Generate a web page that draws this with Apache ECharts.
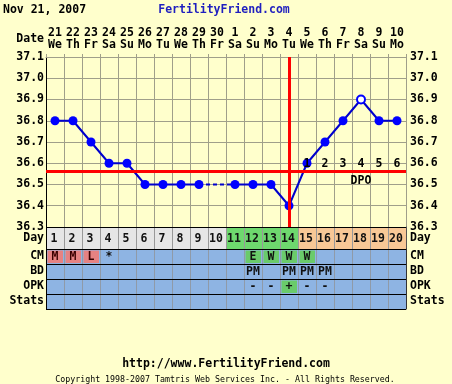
<!DOCTYPE html>
<html><head><meta charset="utf-8">
<script src="https://cdn.jsdelivr.net/npm/echarts@6/dist/echarts.min.js"></script>
<style>html,body{margin:0;padding:0;background:#ffffcc}#c{width:452px;height:384px}</style>
</head><body><div id="c"></div>
<script>
// ---- data ----
const dates    = ['21','22','23','24','25','26','27','28','29','30','1','2','3','4','5','6','7','8','9','10'];
const weekdays = ['We','Th','Fr','Sa','Su','Mo','Tu','We','Th','Fr','Sa','Su','Mo','Tu','We','Th','Fr','Sa','Su','Mo'];
const cycleDays = ['1','2','3','4','5','6','7','8','9','10','11','12','13','14','15','16','17','18','19','20'];
const temps = [36.8,36.8,36.7,36.6,36.6,36.5,36.5,36.5,36.5,null,36.5,36.5,36.5,36.4,36.6,36.7,36.8,36.9,36.8,36.8];
const discardedDay = '18';
const gapFrom = '9', gapTo = '11';
const coverline = 36.56;
const ovulationDay = '14';
const yTicks = { min: 36.3, max: 37.1, step: 0.1 };
const phase = [0,0,0,0,0,0,0,0,0,0,1,1,1,1,2,2,2,2,2,2]; // 0 pre, 1 fertile, 2 luteal
const rows = ['CM','BD','OPK','Stats'];
const cm   = ['M','M','L','*','','','','','','','','E','W','W','W','','','','',''];
const bd   = ['','','','','','','','','','','','PM','','PM','PM','PM','','','',''];
const opk  = ['','','','','','','','','','','','-','-','+','-','-','','','',''];
const stats= ['','','','','','','','','','','','','','','','','','','',''];
const dpoDays = ['15','16','17','18','19','20','18'];
const dpoLevels = [36.6,36.6,36.6,36.6,36.6,36.6,36.52];
const dpoText = ['1','2','3','4','5','6','DPO'];

// ---- styles ----
const FONT = '"DejaVu Sans Mono", monospace';
const FS = 11.5;
const GRIDC = '#a09f8a';
const phaseColors = ['#e6e6e6', '#6ed86e', '#f8c896'];
const blueCell = '#8eb4e3';
const tableData = [cm, bd, opk, stats];

function specialFill(r, t) {
  if (r === 0 && (t === 'M' || t === 'L')) return '#e68282';
  if (r === 0 && (t === 'E' || t === 'W')) return '#6acb6a';
  if (r === 2 && t === '+') return '#6acb6a';
  return null;
}

const tempData = temps.map((v, i) => {
  if (cycleDays[i] === discardedDay) {
    return { value: v, symbol: 'emptyCircle', symbolSize: 8,
      itemStyle: { color: '#0000ff', borderColor: '#0000ff', borderWidth: 1.2 } };
  }
  return v;
});
const gapData = temps.map((v, i) => (cycleDays[i] === gapFrom || cycleDays[i] === gapTo) ? v : null);

const tableCells = [];
rows.forEach((r, ri) => cycleDays.forEach((d, di) => tableCells.push([di, ri])));

const chart = echarts.init(document.getElementById('c'));
const lbl = { fontFamily: FONT, fontWeight: 'bold', fontSize: FS, color: '#000' };

chart.setOption({
  backgroundColor: '#ffffcc',
  animation: false,
  grid: [
    { left: 46, top: 57, width: 360, height: 170, show: false },
    { left: 46, top: 227, width: 360, height: 22, show: false },
    { left: 46, top: 249, width: 360, height: 60, show: false }
  ],
  xAxis: [
    { gridIndex: 0, type: 'category', data: cycleDays, position: 'top', boundaryGap: true,
      axisLine: { show: true, lineStyle: { color: GRIDC } },
      axisTick: { show: true, interval: 0, length: 3, lineStyle: { color: GRIDC } },
      axisLabel: Object.assign({ interval: 0, margin: 6, lineHeight: 12,
        formatter: (v, i) => dates[i] + '\n' + weekdays[i] }, lbl),
      splitLine: { show: true, interval: 0, lineStyle: { color: GRIDC, width: 1 } } },
    { gridIndex: 1, type: 'category', data: cycleDays, boundaryGap: true, z: 5,
      axisLine: { show: false }, axisTick: { show: false }, axisLabel: { show: false },
      splitLine: { show: true, interval: 0, lineStyle: { color: '#999999' } } },
    { gridIndex: 2, type: 'category', data: cycleDays, boundaryGap: true, z: 5,
      axisLine: { show: false }, axisTick: { show: false }, axisLabel: { show: false },
      splitLine: { show: true, interval: 0, lineStyle: { color: '#8f9aa8' } } }
  ],
  yAxis: [
    { gridIndex: 0, type: 'value', min: yTicks.min, max: yTicks.max, interval: yTicks.step, position: 'left',
      axisLine: { show: true, lineStyle: { color: '#000' } }, axisTick: { show: false },
      axisLabel: Object.assign({ margin: 2, formatter: v => v.toFixed(1) }, lbl),
      splitLine: { show: true, lineStyle: { color: GRIDC } } },
    { gridIndex: 0, type: 'value', min: yTicks.min, max: yTicks.max, interval: yTicks.step, position: 'right',
      axisLine: { show: false }, axisTick: { show: false },
      axisLabel: Object.assign({ margin: 4, formatter: v => v.toFixed(1) }, lbl),
      splitLine: { show: false } },
    { gridIndex: 1, type: 'category', data: ['Day'], position: 'left', z: 6,
      axisLine: { show: true, lineStyle: { color: '#000' } }, axisTick: { show: false },
      axisLabel: Object.assign({ margin: 2, interval: 0 }, lbl),
      splitLine: { show: true, interval: 0, lineStyle: { color: '#000' } } },
    { gridIndex: 1, type: 'category', data: ['Day'], position: 'right', z: 6,
      axisLine: { show: true, lineStyle: { color: '#555' } }, axisTick: { show: false },
      axisLabel: Object.assign({ margin: 4, interval: 0 }, lbl), splitLine: { show: false } },
    { gridIndex: 2, type: 'category', data: rows, position: 'left', inverse: true, z: 6,
      axisLine: { show: true, lineStyle: { color: '#000' } }, axisTick: { show: false },
      axisLabel: Object.assign({ margin: 2, interval: 0 }, lbl),
      splitLine: { show: true, interval: 0, lineStyle: { color: '#000' } } },
    { gridIndex: 2, type: 'category', data: rows, position: 'right', inverse: true, z: 6,
      axisLine: { show: true, lineStyle: { color: '#333' } }, axisTick: { show: false },
      axisLabel: Object.assign({ margin: 4, interval: 0 }, lbl), splitLine: { show: false } }
  ],
  graphic: [
    { type: 'text', x: 3, y: 10, style: { text: 'Nov 21, 2007', fontFamily: FONT, fontWeight: 'bold', fontSize: FS, fill: '#000', verticalAlign: 'middle' } },
    { type: 'text', x: 224, y: 10, style: { text: 'FertilityFriend.com', fontFamily: FONT, fontWeight: 'bold', fontSize: FS, fill: '#1f1fbf', align: 'center', verticalAlign: 'middle' } },
    { type: 'text', x: 44, y: 39, style: { text: 'Date', fontFamily: FONT, fontWeight: 'bold', fontSize: FS, fill: '#000', align: 'right', verticalAlign: 'middle' } },
    { type: 'text', x: 226, y: 364, style: { text: 'http://www.FertilityFriend.com', fontFamily: FONT, fontWeight: 'bold', fontSize: FS, fill: '#000', align: 'center', verticalAlign: 'middle' } },
    { type: 'text', x: 225, y: 380, style: { text: 'Copyright 1998-2007 Tamtris Web Services Inc. - All Rights Reserved.', fontFamily: FONT, fontSize: 8.3, fill: '#000', align: 'center', verticalAlign: 'middle' } }
  ],
  series: [
    { type: 'line', xAxisIndex: 0, yAxisIndex: 0, data: gapData, connectNulls: true, symbol: 'none', z: 1,
      lineStyle: { color: '#0000cc', width: 2, type: [4, 3] },
      markLine: { silent: true, symbol: ['none', 'none'], label: { show: false },
        data: [
          { yAxis: coverline, lineStyle: { color: '#ff0000', width: 3, type: 'solid' } },
          { xAxis: ovulationDay, lineStyle: { color: '#ff0000', width: 3, type: 'solid' } }
        ] } },
    { type: 'line', xAxisIndex: 0, yAxisIndex: 0, data: tempData, connectNulls: false, z: 3,
      symbol: 'circle', symbolSize: 9, showAllSymbol: true,
      itemStyle: { color: '#0000ff' }, lineStyle: { color: '#0000cc', width: 2 } },
    { type: 'custom', xAxisIndex: 0, yAxisIndex: 0, z: 20,
      data: dpoDays.map((d, i) => [cycleDays.indexOf(d), dpoLevels[i]]),
      renderItem: (params, api) => {
        const p = api.coord([api.value(0), api.value(1)]);
        return { type: 'text', z2: 100, style: { text: dpoText[params.dataIndex], x: p[0], y: p[1] + 1,
          align: 'center', verticalAlign: 'middle', fontFamily: FONT, fontWeight: 'bold', fontSize: FS, fill: '#000' } };
      } },
    { type: 'custom', xAxisIndex: 1, yAxisIndex: 2, z: 2,
      data: cycleDays.map((d, i) => [i, 0]),
      renderItem: (params, api) => {
        const i = params.dataIndex;
        const p = api.coord([api.value(0), api.value(1)]);
        const s = api.size([1, 1]);
        return { type: 'group', children: [
          { type: 'rect', shape: { x: p[0] - s[0] / 2, y: p[1] - s[1] / 2, width: s[0], height: s[1] },
            style: { fill: phaseColors[phase[i]] } },
          { type: 'text', style: { text: cycleDays[i], x: p[0] - 1, y: p[1] + 1, align: 'center', verticalAlign: 'middle',
            fontFamily: FONT, fontWeight: 'bold', fontSize: FS, fill: '#111' } }
        ] };
      } },
    { type: 'custom', xAxisIndex: 2, yAxisIndex: 4, z: 2,
      data: tableCells,
      renderItem: (params, api) => {
        const c = tableCells[params.dataIndex];
        const di = c[0], ri = c[1];
        const p = api.coord([api.value(0), api.value(1)]);
        const s = api.size([1, 1]);
        const t = tableData[ri][di];
        const children = [
          { type: 'rect', shape: { x: p[0] - s[0] / 2, y: p[1] - s[1] / 2, width: s[0], height: s[1] },
            style: { fill: blueCell } }
        ];
        const f = specialFill(ri, t);
        if (f) children.push({ type: 'rect', shape: { x: p[0] - s[0] / 2 + 1.5, y: p[1] - s[1] / 2 + 1.5, width: s[0] - 2.5, height: s[1] - 2.5 }, style: { fill: f } });
        if (t) children.push({ type: 'text', style: { text: t, x: p[0], y: p[1] + 1, align: 'center', verticalAlign: 'middle',
          fontFamily: FONT, fontWeight: 'bold', fontSize: FS, fill: (ri === 0 && (t === 'M' || t === 'L')) ? '#3a0000' : '#111' } });
        return { type: 'group', children };
      } }
  ]
});
</script></body></html>
